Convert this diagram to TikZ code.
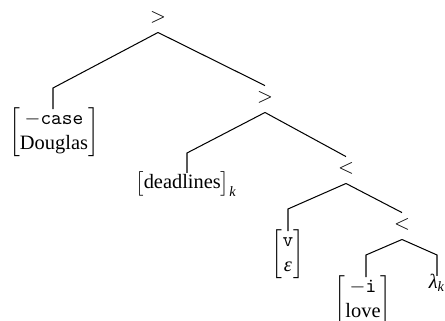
\documentclass[tikz,border=0pt]{standalone}
\usepackage{fontspec}
\setmainfont{Liberation Serif}
\begin{document}
\begin{tikzpicture}[x=0.49pt,y=-0.49pt,
  lab/.style={inner xsep=1pt,inner ysep=4.5pt,font=\fontsize{10}{12}\selectfont},
  leaf/.style={inner sep=0pt,font=\fontsize{10}{12}\selectfont},
  br/.style={line width=0.5pt}]
\useasboundingbox (0,0) rectangle (445,321);
% internal nodes
\node[lab] (r) at (158,17) {$>$};
\node[lab] (n2) at (265,97) {$>$};
\node[lab] (n3) at (346,168) {$<$};
\node[lab] (n4) at (402,224) {$<$};
% leaves
\node[leaf] (l1) at (54,132) {$\left[\begin{array}{@{}c@{}}\mbox{\texttt{$-$case}}\\\mbox{Douglas}\end{array}\right]$};
\node[leaf] (l2) at (186,184) {$\bigl[\mbox{deadlines}\bigr]_{\mbox{\scriptsize\itshape k}}$};
\node[leaf] (l3) at (288,254) {$\left[\begin{array}{@{}c@{}}\mbox{\texttt{v}}\\\mbox{\itshape ε}\end{array}\right]$};
\node[leaf] (l4) at (363,300) {$\left[\begin{array}{@{}c@{}}\mbox{\texttt{$-$i}}\\\mbox{love}\end{array}\right]$};
\node[leaf] (l5) at (437,283) {\textit{λ}\textsubscript{\textit{k}}};
% corners
\coordinate (c1) at (53,88);
\coordinate (c2) at (187,153);
\coordinate (c3) at (288,209);
\coordinate (c4) at (366,255);
\coordinate (c5) at (437,255);
% edges
\draw[br] (r.south) -- (c1) -- ([yshift=-1pt]l1.north -| c1);
\draw[br] (r.south) -- ([yshift=-2pt]n2.north);
\draw[br] (n2.south) -- (c2) -- ([yshift=-1pt]l2.north -| c2);
\draw[br] (n2.south) -- ([yshift=-2pt]n3.north);
\draw[br] (n3.south) -- (c3) -- ([yshift=-1pt]l3.north -| c3);
\draw[br] (n3.south) -- ([yshift=-2pt]n4.north);
\draw[br] (n4.south) -- (c4) -- ([yshift=-1pt]l4.north -| c4);
\draw[br] (n4.south) -- (c5) -- ([yshift=-1pt]l5.north);
\end{tikzpicture}
\end{document}
